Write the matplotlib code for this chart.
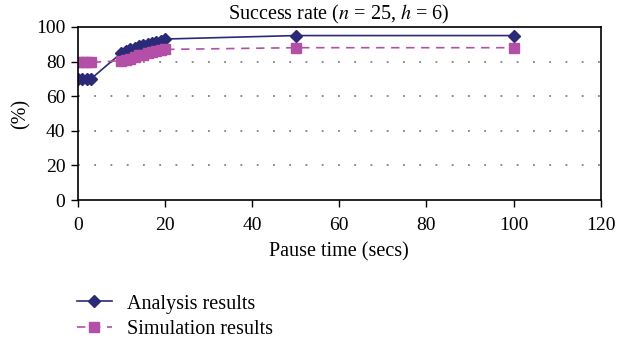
#!/usr/bin/env python

import matplotlib
matplotlib.use("Agg")
import matplotlib.pyplot as plt

plt.rcParams["font.family"] = ["Liberation Serif", "DejaVu Serif"]
plt.rcParams["mathtext.fontset"] = "stix"

# Pause time (secs)
pause_time = [0, 1, 2, 3, 10, 11, 12, 13, 14, 15, 16, 17, 18, 19, 20, 50, 100]

# Success rate (%)
analysis = [70, 70, 70, 70, 85, 86, 87, 88, 89, 89.5, 90, 90.5, 91.5, 92, 93, 95, 95]
simulation = [80, 80, 80, 79.5, 80.5, 81, 81.5, 82.5, 83.5, 84, 85, 85.5, 86, 86.5, 87, 88, 88]

x_ticks = [0, 20, 40, 60, 80, 100, 120]
y_ticks = [0, 20, 40, 60, 80, 100]

navy = "#2b2a78"
magenta = "#b34fa6"

fig = plt.figure(figsize=(6.18, 3.45), dpi=100)
ax = fig.add_axes([0.126, 0.42, 0.846, 0.502])

ax.plot(pause_time, analysis, color=navy, lw=1.2, marker="D", ms=6,
        label="Analysis results")
ax.plot(pause_time, simulation, color=magenta, lw=1.2, ls=(0, (5, 4)),
        marker="s", ms=7, label="Simulation results")

ax.set_xlim(0, 120)
ax.set_ylim(0, 100)
ax.set_xticks(x_ticks)
ax.set_yticks(y_ticks)
ax.tick_params(labelsize=14, direction="out", length=5, width=1,
               colors="black", pad=4)
ax.tick_params(axis="x", pad=7)

for y in y_ticks[1:-1]:
    ax.axhline(y, color="#808080", lw=1.3, ls=(0, (1, 8)), zorder=0)

for side in ax.spines.values():
    side.set_linewidth(1.2)

ax.set_title("Success rate ($n$ = 25, $h$ = 6)", fontsize=14.5, pad=5)
ax.set_xlabel("Pause time (secs)", fontsize=14.5, labelpad=6)
ax.set_ylabel("(%)", fontsize=14.5, labelpad=4)

fig.legend(loc="upper left", bbox_to_anchor=(0.112, 0.17), frameon=False,
           fontsize=14.5, handlelength=1.7, handletextpad=0.75,
           labelspacing=0.3, borderaxespad=0)

fig.savefig("out.png", dpi=100)
